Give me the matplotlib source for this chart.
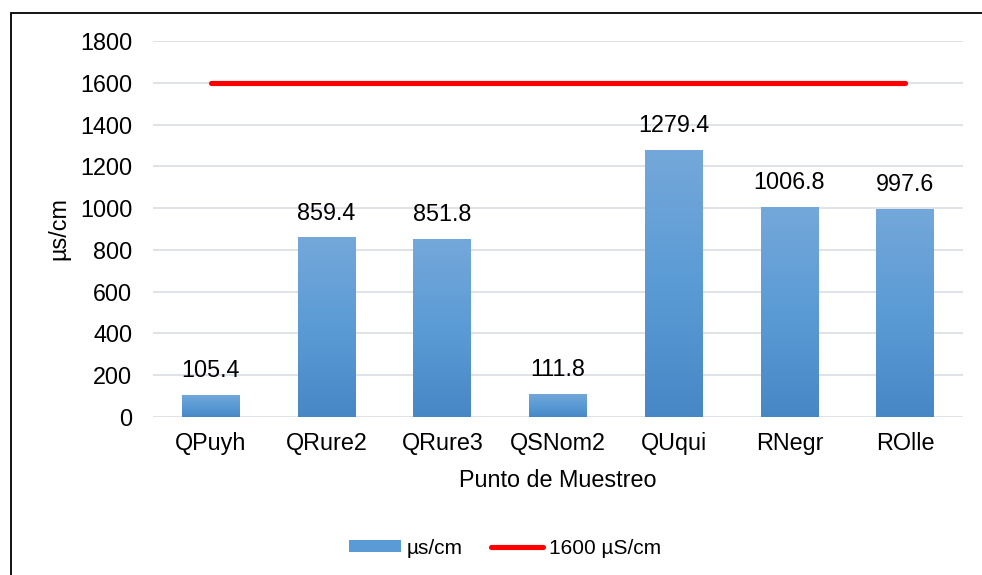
import numpy as np
import matplotlib
matplotlib.use('Agg')
import matplotlib.pyplot as plt
from matplotlib.colors import LinearSegmentedColormap
from matplotlib.patches import Rectangle
from matplotlib.lines import Line2D

plt.rcParams['font.family'] = ['Liberation Sans', 'DejaVu Sans']

categories = ['QPuyh', 'QRure2', 'QRure3', 'QSNom2', 'QUqui', 'RNegr', 'ROlle']
values = [105.4, 859.4, 851.8, 111.8, 1279.4, 1006.8, 997.6]
limit = [1600] * len(categories)
yticks = [0, 200, 400, 600, 800, 1000, 1200, 1400, 1600, 1800]

fs = 16.8

fig = plt.figure(figsize=(9.82, 5.75), dpi=100)
ax = fig.add_axes([153/982, 1 - 417/575, 810/982, 376/575])

x = np.arange(len(categories))
grad = LinearSegmentedColormap.from_list('g', ['#4787c6', '#5b9bd5', '#74a8da'])
bars = ax.bar(x, values, width=0.5, color='none', edgecolor='none', zorder=2)
for b in bars:
    x0, y0 = b.get_x(), b.get_y()
    w, h = b.get_width(), b.get_height()
    im = ax.imshow(np.linspace(0, 1, 256).reshape(-1, 1), cmap=grad,
                   origin='lower', aspect='auto',
                   extent=(x0, x0 + w, y0, y0 + h), zorder=2)
    im.set_clip_path(b)

ax.plot(x, limit, color='#ff0000', lw=3.7, solid_capstyle='round', zorder=3)

for xi, v in zip(x, values):
    ax.text(xi, v + 86, f'{v:.1f}', ha='center', va='baseline', fontsize=fs)

ax.set_xlim(-0.5, len(categories) - 0.5)
ax.set_ylim(0, 1800)
ax.set_yticks(yticks)
ax.set_xticks(x)
ax.set_xticklabels(categories)
ax.tick_params(length=0, labelsize=fs)
ax.tick_params(axis='y', pad=15)
ax.tick_params(axis='x', pad=11)
ax.grid(axis='y', color='#d9dde3', lw=1.2, zorder=0)
ax.set_axisbelow(True)
for s in ax.spines.values():
    s.set_visible(False)
ax.set_ylabel('µs/cm', fontsize=fs)
ax.yaxis.set_label_coords(-0.102, 0.5)
ax.set_xlabel('Punto de Muestreo', fontsize=fs)
ax.xaxis.set_label_coords(0.5, -0.138)

handles = [Rectangle((0, 0), 1, 1, facecolor='#5b9bd5'),
           Line2D([0], [0], color='#ff0000', lw=3.7, solid_capstyle='round')]
fig.legend(handles, ['µs/cm', '1600 µS/cm'], loc='center',
           bbox_to_anchor=(505/982, 1 - 548/575), ncol=2, frameon=False,
           fontsize=15, handlelength=2.5, handleheight=0.5,
           columnspacing=1.35, handletextpad=0.3)

fig.add_artist(Rectangle((10.5/982, -0.1), 1.2, 1.1 - 12.5/575,
                         transform=fig.transFigure, fill=False,
                         edgecolor='black', lw=1.3))

fig.savefig('out.png', dpi=100)
